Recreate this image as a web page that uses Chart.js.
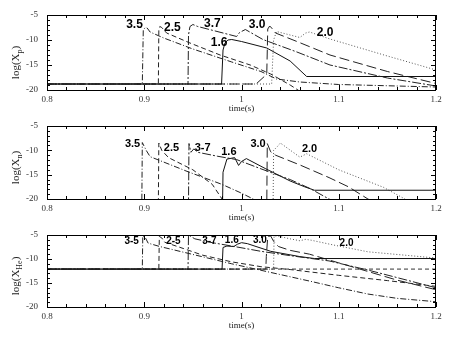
<!DOCTYPE html>
<html>
<head>
<meta charset="utf-8">
<script src="https://cdn.jsdelivr.net/npm/chart.js@4"></script>
<style>
  body { margin: 0; background: #fff; }
  .panel { position: absolute; left: 0; width: 463px; }
</style>
</head>
<body>
<div class="panel" style="top:0px"><canvas id="cP" width="463" height="115"></canvas></div>
<div class="panel" style="top:111px"><canvas id="cN" width="463" height="115"></canvas></div>
<div class="panel" style="top:220px"><canvas id="cHe" width="463" height="126"></canvas></div>
<script>
// tick labels
var xTickLabels = ['0.8', '0.9', '1', '1.1', '1.2'];
var yTickLabels = ['-20', '-15', '-10', '-5'];
var curveNames = ['3.5', '2.5', '3.7', '1.6', '3.0', '2.0'];

// log(Xp)  -- [time, value]
var p35 = [[0.8,-18.8],[0.898,-18.8],[0.899,-8],[0.901,-7.5],[0.903,-7.6],[0.906,-8.4],[0.92,-9.6],[0.95,-11.8],[0.99,-14.4],[1.02,-16.3],[1.036,-17.8],[1.06,-18.4],[1.1,-18.9],[1.2,-19.4]];
var p25 = [[0.8,-18.8],[0.9145,-18.8],[0.915,-8],[0.916,-7.3],[0.918,-7.5],[0.923,-8.6],[0.947,-10.6],[0.978,-13],[1.009,-15],[1.03,-16.8],[1.05,-19],[1.062,-20.5]];
var p37 = [[0.8,-18.8],[0.945,-18.8],[0.9455,-9],[0.947,-7.3],[0.95,-6.9],[0.955,-7.3],[0.995,-9.3],[0.998,-8.5],[1.004,-7.9],[1.022,-9.9],[1.057,-12.4],[1.091,-15],[1.15,-17.6],[1.2,-19.2]];
var p16 = [[0.8,-18.8],[0.9795,-18.8],[0.981,-12],[0.983,-10.6],[0.986,-10],[0.99,-9.9],[1.0,-10.3],[1.026,-11.6],[1.05,-14.2],[1.067,-17.3],[1.2,-17.3]];
var p30 = [[0.8,-18.8],[1.015,-18.8],[1.024,-17.2],[1.026,-16.6],[1.027,-7.8],[1.029,-7.2],[1.031,-7.6],[1.035,-8.6],[1.057,-10.3],[1.091,-13],[1.15,-16.3],[1.2,-18.7]];
var p20 = [[0.8,-18.8],[1.031,-18.8],[1.033,-10],[1.036,-8.3],[1.04,-8.5],[1.06,-9.5],[1.066,-8.6],[1.07,-8.4],[1.091,-9.8],[1.15,-13.2],[1.2,-16]];

// log(Xn)
var n35 = [[0.8,-21],[0.8975,-21],[0.898,-8.4],[0.902,-10],[0.906,-11.3],[0.945,-14.4],[0.98,-17],[1.0,-18.8],[1.012,-20],[1.02,-21]];
var n25 = [[0.8,-21],[0.9145,-21],[0.915,-8.5],[0.918,-10],[0.925,-11.5],[0.95,-14],[0.97,-17],[0.98,-20],[0.985,-21]];
var n37 = [[0.8,-21],[0.9455,-21],[0.946,-8.6],[0.948,-10.4],[0.951,-9.7],[0.955,-10.4],[0.975,-11.2],[0.995,-11.9],[1.02,-13.8],[1.05,-16],[1.07,-17.8],[1.09,-20],[1.1,-21]];
var n16 = [[0.8,-21],[0.9805,-21],[0.981,-14.5],[0.985,-11.8],[0.993,-11.5],[0.997,-13.1],[1.0,-12.3],[1.005,-11.7],[1.025,-13.8],[1.05,-16.3],[1.065,-17.5],[1.075,-18.2],[1.2,-18.2]];
var n30 = [[0.8,-21],[1.026,-21],[1.0265,-8.6],[1.03,-10.3],[1.035,-11],[1.06,-13],[1.09,-15.6],[1.11,-17.5],[1.13,-20],[1.14,-21]];
var n20 = [[0.8,-21],[1.0325,-21],[1.033,-10],[1.037,-9.2],[1.04,-8.5],[1.06,-11.4],[1.067,-10.7],[1.1,-14],[1.146,-17.6],[1.168,-20],[1.175,-21]];

// log(XHe)
var h35 = [[0.8,-12.1],[0.898,-12.1],[0.8985,-5.2],[0.901,-5.5],[0.904,-6.7],[0.916,-7.4],[0.953,-9.2],[0.99,-11],[1.03,-12.8],[1.07,-14.6],[1.1,-16],[1.13,-17.3],[1.16,-18.2],[1.2,-18.9]];
var h25 = [[0.8,-12.1],[0.915,-12.1],[0.9155,-5.3],[0.918,-5.6],[0.921,-6.5],[0.94,-7.8],[0.96,-9.2],[0.99,-10.6],[1.02,-11.6],[1.05,-12.2],[1.1,-13.4],[1.15,-14.5],[1.2,-15.7]];
var h37 = [[0.8,-12.1],[0.945,-12.1],[0.9455,-5],[0.948,-5.3],[0.952,-5.8],[0.97,-6.6],[0.99,-7.3],[1.02,-8.4],[1.05,-9.3],[1.09,-10.4],[1.13,-12.3],[1.17,-14.4],[1.2,-16]];
var h16 = [[0.8,-12.1],[0.98,-12.1],[0.981,-7.6],[0.985,-7.3],[0.992,-7.4],[0.996,-6.9],[1.0,-6.6],[1.006,-6.8],[1.03,-8.4],[1.06,-9.5],[1.075,-9.9],[1.2,-9.9]];
var h30 = [[0.8,-12.1],[1.025,-12.1],[1.0255,-9.5],[1.027,-5.3],[1.03,-5.2],[1.033,-6.3],[1.038,-7.4],[1.05,-8.2],[1.07,-9],[1.1,-10.8],[1.13,-12.6],[1.16,-14.4],[1.2,-16.4]];
var h20 = [[0.8,-12.1],[1.033,-12.1],[1.0335,-5.2],[1.037,-5.2],[1.05,-5.8],[1.06,-6.2],[1.066,-5.9],[1.072,-6.1],[1.095,-7.1],[1.13,-8.5],[1.2,-9.8]];
var hInit = [[0.8,-12.1],[1.2,-12.1]];

// curve label anchors [time, value]
var pLabelAt = [[0.890,-7],[0.929,-7.6],[0.970,-6.7],[0.977,-10.5],[1.016,-7],[1.086,-8.5]];
var nLabelAt = [[0.888,-8.6],[0.928,-9.6],[0.960,-9.6],[0.987,-10.3],[1.017,-8.6],[1.070,-9.8]];
var hLabelAt = [[0.887,-6.2],[0.930,-6.2],[0.967,-6.2],[0.990,-6],[1.019,-6],[1.108,-6.7]];
var nLabelText = ['3.5', '2.5', '3-7', '1.6', '3.0', '2.0'];
var hLabelText = ['3-5', '2-5', '3-7', '1.6', '3.0', '2.0'];

var dashes = [[6,2,1,2], [5,3], [9,2,2,2], [], [10,4], [1,2]];
var colors = ['#222', '#222', '#222', '#111', '#222', '#555'];

function toXY(arr) {
  return arr.map(function (d) { return {x: d[0], y: d[1]}; });
}

var deco = {
  id: 'deco',
  afterDraw: function (chart, args, o) {
    var ctx = chart.ctx, a = chart.chartArea, x = chart.scales.x, y = chart.scales.y;
    ctx.save();
    ctx.strokeStyle = '#000';
    ctx.lineWidth = 1;
    ctx.strokeRect(a.left + 0.5, a.top + 0.5, a.right - a.left - 1, a.bottom - a.top);
    ctx.beginPath();
    for (var i = 0; i <= 20; i++) {
      var px = Math.round(x.getPixelForValue(0.8 + i * 0.02)) + 0.5;
      var len = i % 5 === 0 ? 5 : 3;
      ctx.moveTo(px, a.bottom); ctx.lineTo(px, a.bottom - len);
      ctx.moveTo(px, a.top); ctx.lineTo(px, a.top + len);
    }
    for (var v = -20; v <= -5; v++) {
      var py = Math.round(y.getPixelForValue(v)) + 0.5;
      var l2 = v % 5 === 0 ? 5 : 3;
      ctx.moveTo(a.left, py); ctx.lineTo(a.left + l2, py);
      ctx.moveTo(a.right, py); ctx.lineTo(a.right - l2, py);
    }
    ctx.stroke();

    // curve labels
    ctx.fillStyle = '#000';
    ctx.font = 'bold ' + o.labelSize + 'px "Liberation Sans"';
    ctx.textAlign = 'center';
    ctx.textBaseline = 'middle';
    o.labelAt.forEach(function (p, k) {
      ctx.fillText(o.labelText[k], x.getPixelForValue(p[0]), y.getPixelForValue(p[1]));
    });

    // x title
    ctx.fillStyle = '#222';
    ctx.font = '9px "Liberation Serif"';
    ctx.fillText('time(s)', (a.left + a.right) / 2, a.bottom + o.xTitleGap);

    // y title with subscript
    var big = '11px "Liberation Serif"', small = '8px "Liberation Serif"';
    ctx.font = big; var w1 = ctx.measureText('log(X').width; var w3 = ctx.measureText(')').width;
    ctx.font = small; var w2 = ctx.measureText(o.sub).width;
    var total = w1 + w2 + w3;
    ctx.translate(15, (a.top + a.bottom) / 2 + o.yTitleShift);
    ctx.rotate(-Math.PI / 2);
    ctx.textAlign = 'left';
    ctx.textBaseline = 'alphabetic';
    var sx = -total / 2;
    ctx.font = big; ctx.fillText('log(X', sx, 4);
    ctx.font = small; ctx.fillText(o.sub, sx + w1, 7);
    ctx.font = big; ctx.fillText(')', sx + w1 + w2, 4);
    ctx.restore();
  }
};

function makePanel(id, series, extra, axisH, sub, labelAt, labelText, labelSize, yTitleShift) {
  var datasets = series.map(function (s, k) {
    return {
      label: curveNames[k],
      data: toXY(s),
      showLine: true,
      borderColor: colors[k],
      borderWidth: 1,
      borderDash: dashes[k],
      pointRadius: 0,
      tension: 0
    };
  });
  if (extra) {
    datasets.push({label: 'initial', data: toXY(extra), showLine: true, borderColor: '#333',
      borderWidth: 1, borderDash: [4,3], pointRadius: 0});
  }
  return new Chart(document.getElementById(id), {
    type: 'scatter',
    data: {datasets: datasets},
    options: {
      responsive: false,
      animation: false,
      devicePixelRatio: 1,
      layout: {padding: {top: 15, right: 27, left: 0, bottom: 0}},
      scales: {
        x: {
          type: 'linear', min: 0.8, max: 1.2,
          grid: {display: false, drawTicks: false},
          border: {display: false},
          ticks: {
            stepSize: 0.1, padding: 4, maxRotation: 0, color: '#333',
            font: {family: 'Liberation Serif', size: 9},
            callback: function (v) { return xTickLabels[Math.round((v - 0.8) / 0.1)]; }
          },
          afterFit: function (s) { s.height = axisH; }
        },
        y: {
          min: -20, max: -5,
          grid: {display: false, drawTicks: false},
          border: {display: false},
          ticks: {
            stepSize: 5, padding: 9, color: '#333',
            font: {family: 'Liberation Serif', size: 9},
            callback: function (v) { return yTickLabels[Math.round((v + 20) / 5)]; }
          },
          afterFit: function (s) { s.width = 47; }
        }
      },
      plugins: {
        legend: {display: false},
        tooltip: {enabled: false},
        deco: {sub: sub, labelAt: labelAt, labelText: labelText, labelSize: labelSize,
          xTitleGap: 19, yTitleShift: yTitleShift}
      }
    },
    plugins: [deco]
  });
}

makePanel('cP', [p35, p25, p37, p16, p30, p20], null, 25, 'p', pLabelAt, curveNames, 12, 10);
makePanel('cN', [n35, n25, n37, n16, n30, n20], null, 27, 'n', nLabelAt, nLabelText, 11, 5);
makePanel('cHe', [h35, h25, h37, h16, h30, h20], hInit, 39, 'He', hLabelAt, hLabelText, 10, 5);
</script>
</body>
</html>
